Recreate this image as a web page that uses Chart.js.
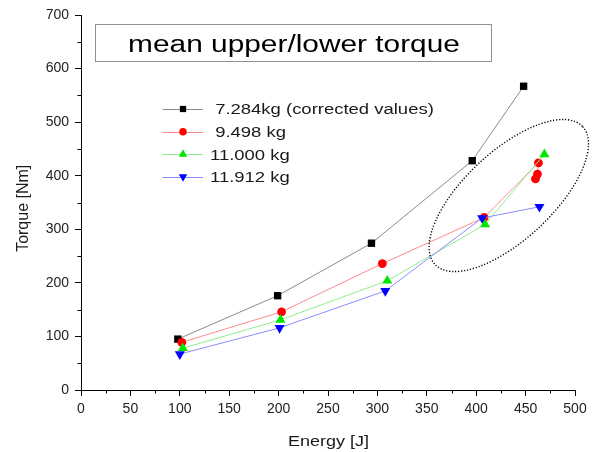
<!DOCTYPE html>
<html><head><meta charset="utf-8">
<script src="https://cdn.jsdelivr.net/npm/chart.js@4.4.0/dist/chart.umd.min.js"></script>
<style>html,body{margin:0;padding:0;background:#fff}canvas{display:block}</style>
</head><body>
<canvas id="c" width="593" height="452"></canvas>
<script>
// ---- data ----
const titleText = 'mean upper/lower torque';
const xAxisTitle = 'Energy [J]';
const yAxisTitle = 'Torque [Nm]';
const seriesLabels = [' 7.284kg (corrected values)', ' 9.498 kg', '11.000 kg', '11.912 kg'];

const energy7284 = [98, 199, 294, 396, 448];
const torque7284 = [95, 176, 274, 428, 567];

const energy9498 = [102, 203, 305, 408, 463, 462, 460];
const torque9498 = [89, 146, 236, 322, 424, 403, 394];

const energy11000 = [103, 202, 310, 409, 469];
const torque11000 = [78, 131, 204, 309, 440];

const energy11912 = [100, 201, 308, 406, 464];
const torque11912 = [67, 116, 185, 321, 342];

const xTickStep = 50, xMin = 0, xMax = 500;
const yTickStep = 100, yMin = 0, yMax = 700;
const xMinorTicks = [25, 75, 125, 175, 225, 275, 325, 375, 425, 475];
const yMinorTicks = [50, 150, 250, 350, 450, 550, 650];
const ellipseCenter = {x: 433, y: 363};

// ---- styles ----
const FONT = '"Liberation Sans", Arial, Helvetica, sans-serif';
const styles = [
  {line: '#8a8a8a', point: '#000000', style: 'rect', radius: 5.2, rot: 0},
  {line: '#ff8c8c', point: '#ff0000', style: 'circle', radius: 4.4, rot: 0},
  {line: '#8cf08c', point: '#00e600', style: 'triangle', radius: 5.8, rot: 0},
  {line: '#8c8cff', point: '#0000ff', style: 'triangle', radius: 5.8, rot: 180}
];
const seriesX = [energy7284, energy9498, energy11000, energy11912];
const seriesY = [torque7284, torque9498, torque11000, torque11912];

const datasets = seriesLabels.map((lab, k) => ({
  label: lab.trim(),
  data: seriesX[k].map((x, i) => ({x: x, y: seriesY[k][i]})),
  showLine: true,
  borderColor: styles[k].line,
  borderWidth: 1,
  pointStyle: styles[k].style,
  pointRadius: styles[k].radius,
  pointHoverRadius: styles[k].radius,
  pointRotation: styles[k].rot,
  pointBackgroundColor: styles[k].point,
  pointBorderColor: styles[k].point,
  pointBorderWidth: 0,
  order: 4 - k
}));

function stretchedText(ctx, text, x, y, size, sx, align, color) {
  ctx.save();
  ctx.font = size + 'px ' + FONT;
  ctx.fillStyle = color;
  ctx.translate(x, y);
  ctx.scale(sx, 1);
  ctx.textAlign = align;
  ctx.textBaseline = 'alphabetic';
  ctx.fillText(text, 0, 0);
  ctx.restore();
}

const decor = {
  id: 'decor',
  afterDraw(chart) {
    const ctx = chart.ctx;
    const xs = chart.scales.x, ys = chart.scales.y;
    const area = chart.chartArea;
    // minor ticks
    ctx.save();
    ctx.strokeStyle = '#000';
    ctx.lineWidth = 1;
    ctx.beginPath();
    xMinorTicks.forEach(v => {
      const px = Math.round(xs.getPixelForValue(v)) + 0.5;
      ctx.moveTo(px, area.bottom);
      ctx.lineTo(px, area.bottom + 3.5);
    });
    yMinorTicks.forEach(v => {
      const py = Math.round(ys.getPixelForValue(v)) + 0.5;
      ctx.moveTo(area.left, py);
      ctx.lineTo(area.left - 3.5, py);
    });
    ctx.stroke();
    ctx.restore();

    // title box
    ctx.save();
    ctx.strokeStyle = '#909090';
    ctx.lineWidth = 1;
    ctx.strokeRect(95.5, 24.5, 396, 37);
    ctx.restore();
    stretchedText(ctx, titleText, 294, 51.5, 23.5, 1.27, 'center', '#000');

    // dotted ellipse
    ctx.save();
    ctx.strokeStyle = '#000';
    ctx.lineWidth = 1.4;
    ctx.setLineDash([1.2, 1.8]);
    ctx.beginPath();
    ctx.ellipse(xs.getPixelForValue(ellipseCenter.x), ys.getPixelForValue(ellipseCenter.y), 101, 44, -43 * Math.PI / 180, 0, Math.PI * 2);
    ctx.stroke();
    ctx.restore();

    // legend
    const baselines = [114.3, 137, 159.5, 182];
    seriesLabels.forEach((lab, k) => {
      const by = baselines[k];
      const my = by - 5.3;
      ctx.save();
      ctx.strokeStyle = styles[k].line;
      ctx.lineWidth = 1;
      ctx.beginPath();
      ctx.moveTo(162.5, Math.round(my) + 0.5);
      ctx.lineTo(203, Math.round(my) + 0.5);
      ctx.stroke();
      ctx.fillStyle = styles[k].point;
      Chart.helpers.drawPoint(ctx, {pointStyle: styles[k].style, radius: styles[k].radius * 0.85, rotation: styles[k].rot, borderWidth: 0}, 183, my);
      ctx.restore();
      stretchedText(ctx, lab, 210, by, 15.4, 1.2, 'left', '#1a1a1a');
    });

    // axis titles
    stretchedText(ctx, xAxisTitle, 328.5, 445.7, 15, 1.2, 'center', '#1a1a1a');
    ctx.save();
    ctx.font = '16px ' + FONT;
    ctx.fillStyle = '#1a1a1a';
    ctx.translate(28, 208.3);
    ctx.rotate(-Math.PI / 2);
    ctx.textAlign = 'center';
    ctx.textBaseline = 'alphabetic';
    ctx.fillText(yAxisTitle, 0, 0);
    ctx.restore();
  }
};

new Chart(document.getElementById('c'), {
  type: 'scatter',
  data: {datasets: datasets},
  options: {
    responsive: false,
    devicePixelRatio: 1,
    animation: false,
    events: [],
    layout: {padding: {left: 0, top: 15, right: 18, bottom: 0}},
    plugins: {legend: {display: false}, tooltip: {enabled: false}, title: {display: false}},
    scales: {
      x: {
        type: 'linear', min: xMin, max: xMax,
        ticks: {stepSize: xTickStep, font: {family: FONT, size: 14}, color: '#222', padding: 5, maxRotation: 0, autoSkip: false},
        grid: {drawOnChartArea: false, drawTicks: true, tickLength: 6, color: '#000'},
        border: {display: true, color: '#000', width: 1},
        afterFit(s) { s.height = 62; }
      },
      y: {
        type: 'linear', min: yMin, max: yMax,
        ticks: {stepSize: yTickStep, font: {family: FONT, size: 14}, color: '#222', padding: 6},
        grid: {drawOnChartArea: false, drawTicks: true, tickLength: 6, color: '#000'},
        border: {display: true, color: '#000', width: 1},
        afterFit(s) { s.width = 81; }
      }
    }
  },
  plugins: [decor]
});
</script>
</body></html>
